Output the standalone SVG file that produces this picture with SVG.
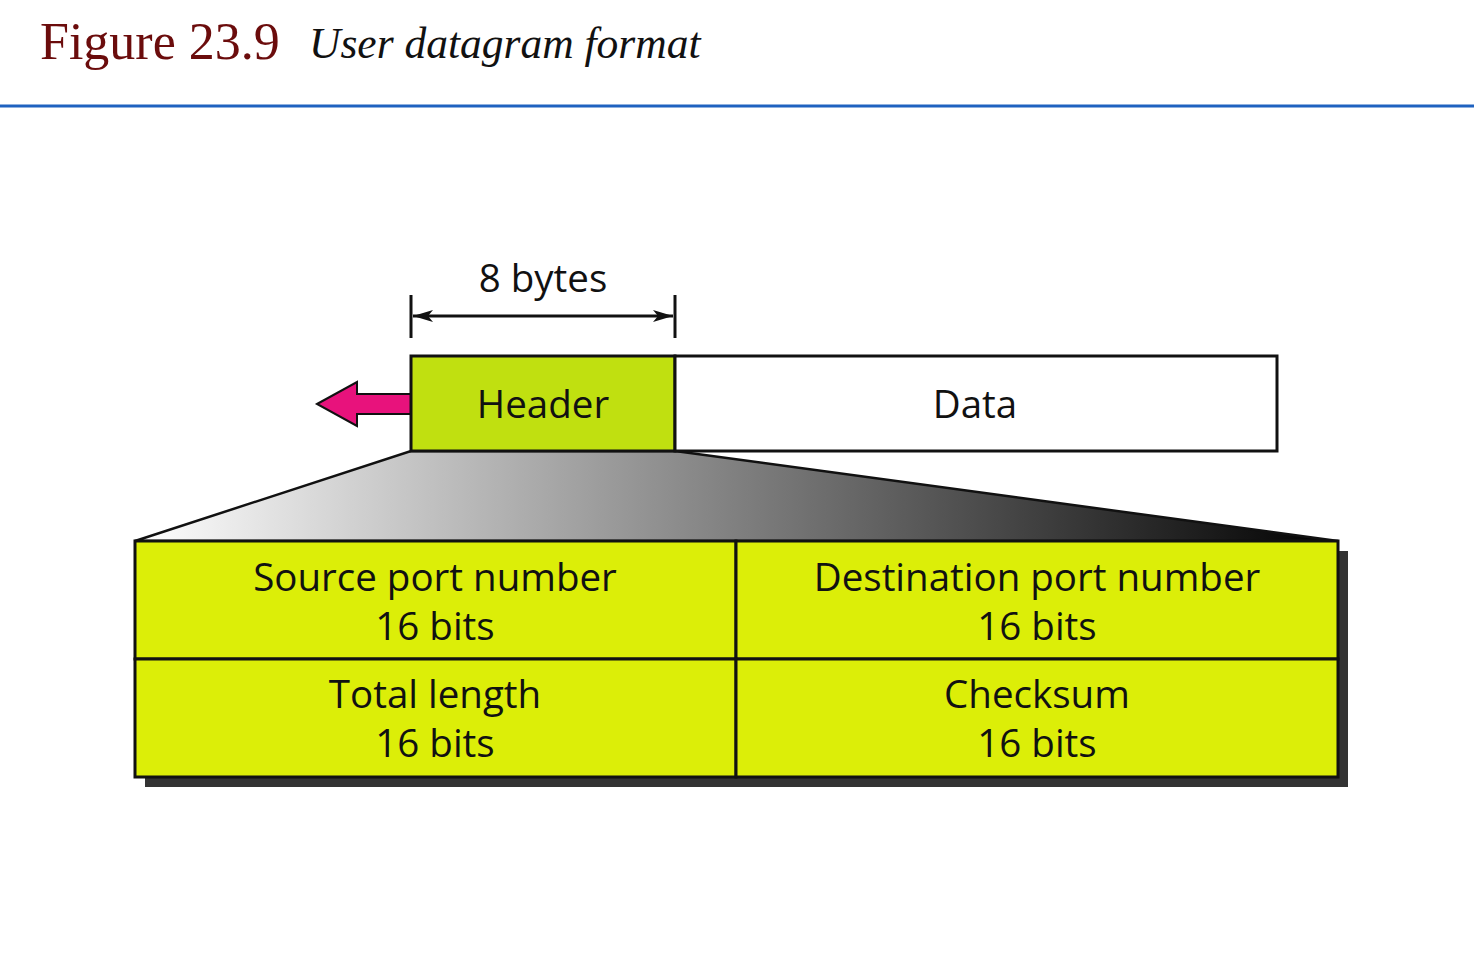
<svg xmlns="http://www.w3.org/2000/svg" width="1474" height="972" viewBox="0 0 1474 972">
<defs>
<style>
.lbl{font-family:"Open Sans","Noto Sans",sans-serif;font-size:38.5px;fill:#111;text-anchor:middle}
.ln{stroke:#111;stroke-width:3;fill:none}
</style>
<linearGradient id="fan" x1="0" y1="0" x2="1" y2="0">
<stop offset="0" stop-color="#ffffff"/>
<stop offset="1" stop-color="#000000"/>
</linearGradient>
<marker id="ah" viewBox="0 0 20 12" refX="20" refY="6" markerWidth="20" markerHeight="12" markerUnits="userSpaceOnUse" orient="auto-start-reverse">
<path d="M0,0 L20,6 L0,12 L5,6 Z" fill="#111"/>
</marker>
</defs>
<rect width="1474" height="972" fill="#fff"/>
<g id="title">
<text x="40" y="59" font-family="Liberation Serif, serif" font-size="52" fill="#6b0c0c">Figure 23.9</text>
<text x="309" y="58" font-family="Liberation Serif, serif" font-size="43.5" font-style="italic" fill="#111">User datagram format</text>
<line x1="0" y1="106" x2="1474" y2="106" stroke="#1f62c0" stroke-width="3"/>
</g>
<g id="dimension">
<line class="ln" x1="411" y1="295" x2="411" y2="338" stroke-width="2.5"/>
<line class="ln" x1="675" y1="295" x2="675" y2="338" stroke-width="2.5"/>
<line class="ln" x1="413" y1="316" x2="673" y2="316" stroke-width="2" marker-start="url(#ah)" marker-end="url(#ah)"/>
<text class="lbl" x="543" y="292">8 bytes</text>
</g>
<g id="fanout">
<polygon points="411,451 675,451 1338,541 135,541" fill="url(#fan)" stroke="#111" stroke-width="2.5"/>
</g>
<g id="arrow">
<polygon points="317,404 357,382 357,394 411,394 411,414 357,414 357,426" fill="#e8127c" stroke="#111" stroke-width="2"/>
</g>
<g id="header">
<rect x="411" y="356" width="264" height="95" fill="#c0e010" stroke="#111" stroke-width="3"/>
<text class="lbl" x="543" y="418">Header</text>
</g>
<g id="data">
<rect x="675" y="356" width="602" height="95" fill="#fff" stroke="#111" stroke-width="3"/>
<text class="lbl" x="975" y="418">Data</text>
</g>
<g id="shadow">
<rect x="145" y="551" width="1203" height="236" fill="#333"/>
</g>
<g id="source-port">
<rect x="135" y="541" width="601" height="118" fill="#dcee08" stroke="#111" stroke-width="3"/>
<text class="lbl" x="435" y="591">Source port number</text>
<text class="lbl" x="435" y="640">16 bits</text>
</g>
<g id="destination-port">
<rect x="736" y="541" width="602" height="118" fill="#dcee08" stroke="#111" stroke-width="3"/>
<text class="lbl" x="1037" y="591">Destination port number</text>
<text class="lbl" x="1037" y="640">16 bits</text>
</g>
<g id="total-length">
<rect x="135" y="659" width="601" height="118" fill="#dcee08" stroke="#111" stroke-width="3"/>
<text class="lbl" x="435" y="708">Total length</text>
<text class="lbl" x="435" y="757">16 bits</text>
</g>
<g id="checksum">
<rect x="736" y="659" width="602" height="118" fill="#dcee08" stroke="#111" stroke-width="3"/>
<text class="lbl" x="1037" y="708">Checksum</text>
<text class="lbl" x="1037" y="757">16 bits</text>
</g>
</svg>
